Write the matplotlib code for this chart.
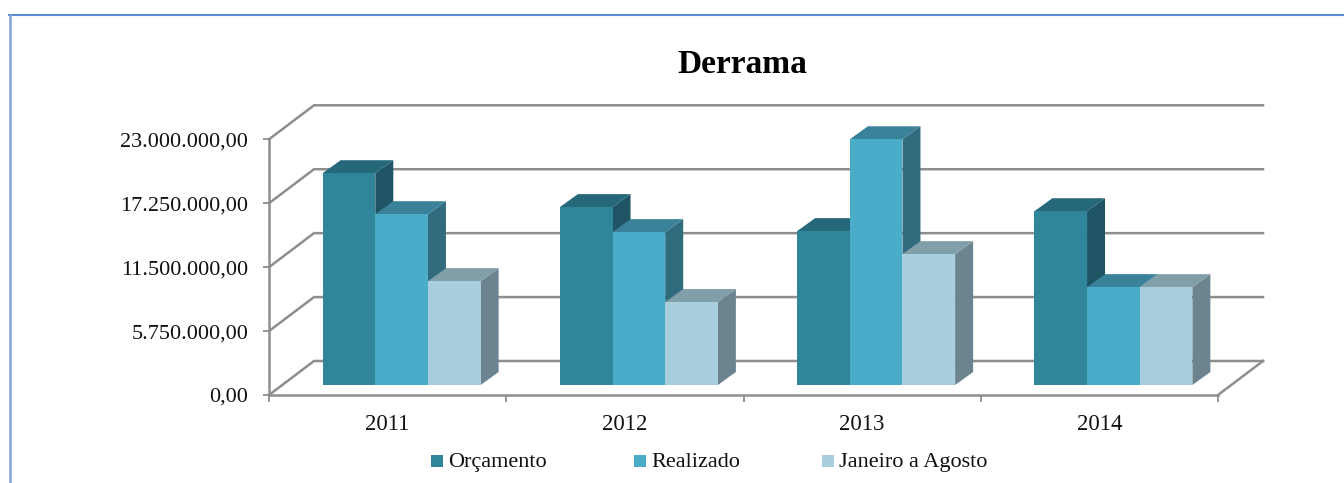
import matplotlib
matplotlib.use('Agg')
from matplotlib import pyplot as plt
from matplotlib import transforms
from matplotlib.lines import Line2D
from matplotlib.patches import Polygon, Rectangle
from matplotlib.ticker import FuncFormatter

years = ['2011', '2012', '2013', '2014']
series_names = ['Orçamento', 'Realizado', 'Janeiro a Agosto']
orcamento = [19050000, 16000000, 13840000, 15630000]
realizado = [15360000, 13750000, 22100000, 8800000]
janeiro_agosto = [9340000, 7460000, 11770000, 8800000]
y_ticks = [0, 5750000, 11500000, 17250000, 23000000]

series = [orcamento, realizado, janeiro_agosto]
front_colors = ['#30859B', '#4AACC8', '#A9CEDE']
top_colors = ['#25687A', '#3A8299', '#809FA9']
side_colors = ['#1F5464', '#316C7E', '#6C8490']
grid_color = '#8E8E8E'
text_color = '#111111'

W, H = 1344, 483
plt.rcParams['font.family'] = ['Liberation Serif', 'DejaVu Serif']

fig = plt.figure(figsize=(W / 100, H / 100), dpi=100)
ax = fig.add_axes([269 / W, (H - 395) / H, 949 / W, 255.7 / H])
ax.set_xlim(0, 4)
ax.set_ylim(0, 23000000)
ax.patch.set_alpha(0)

# pixels to data units
px = 4 / 949
py = 23000000 / 255.7
wall_dx, wall_dy = 45 * px, 34 * py
bar_dx, bar_dy = 18 * px, 13 * py

# document box, only top and left are in the crop
fig.add_artist(Line2D([9 / W, 1], [(H - 15) / H, (H - 15) / H], color='#5B8FD0', lw=1.5))
fig.add_artist(Line2D([9.5 / W, 9.5 / W], [0, (H - 15) / H], color='#7FA3DA', lw=1.8))

# walls
for v in y_ticks:
    ax.plot([0, wall_dx, 4 + wall_dx], [v, v + wall_dy, v + wall_dy],
            color=grid_color, lw=1.8, clip_on=False, zorder=1, solid_joinstyle='miter')
ax.plot([4, 4 + wall_dx], [0, wall_dy], color=grid_color, lw=1.8, clip_on=False, zorder=1)

# bars sit a bit inside the floor
bar_tf = transforms.offset_copy(ax.transData, fig, x=14, y=10, units='dots')
bar_w = 0.222
for i in range(len(years)):
    for k, vals in enumerate(series):
        x0 = i + 0.5 + (k - 1.5) * bar_w
        x1 = x0 + bar_w
        v = vals[i]
        ax.add_patch(Polygon([(x1, 0), (x1 + bar_dx, bar_dy), (x1 + bar_dx, v + bar_dy), (x1, v)],
                             facecolor=side_colors[k], edgecolor='none',
                             transform=bar_tf, clip_on=False, zorder=3))
        ax.add_patch(Polygon([(x0, v), (x0 + bar_dx, v + bar_dy), (x1 + bar_dx, v + bar_dy), (x1, v)],
                             facecolor=top_colors[k], edgecolor='none',
                             transform=bar_tf, clip_on=False, zorder=3))
        ax.bar(x0, v, bar_w, align='edge', color=front_colors[k], edgecolor='none',
               transform=bar_tf, clip_on=False, zorder=3)

ax.set_xlim(0, 4)
ax.set_ylim(0, 23000000)

for s in ['top', 'right']:
    ax.spines[s].set_visible(False)
for s in ['left', 'bottom']:
    ax.spines[s].set_color(grid_color)
    ax.spines[s].set_linewidth(1.8)
    ax.spines[s].set_zorder(2)


def br_fmt(v, pos):
    return f'{v:,.2f}'.replace(',', ' ').replace('.', ',').replace(' ', '.')


ax.set_yticks(y_ticks)
ax.yaxis.set_major_formatter(FuncFormatter(br_fmt))
ax.tick_params(axis='y', length=4, width=1.3, color=grid_color, pad=11,
               labelsize=16, labelcolor=text_color)
ax.set_xticks([0, 1, 2, 3, 4])
ax.set_xticklabels([])
ax.set_xticks([0.5, 1.5, 2.5, 3.5], labels=years, minor=True)
ax.tick_params(axis='x', which='major', length=5, width=1.3, color=grid_color)
ax.tick_params(axis='x', which='minor', length=0, pad=14, labelsize=16.5, labelcolor=text_color)

fig.text(742 / W, (H - 73) / H, 'Derrama', fontsize=24, fontweight='bold',
         ha='center', va='baseline', color='#000000')

# legend placed by hand so that the three labels share one baseline
legend_x = [431, 634, 822]
for x, name, c in zip(legend_x, series_names, front_colors):
    fig.add_artist(Rectangle((x / W, (H - 467) / H), 12 / W, 12 / H, transform=fig.transFigure,
                             facecolor=c, edgecolor='none'))
    fig.text((x + 17) / W, (H - 467) / H, name, fontsize=16, va='baseline', color=text_color)

fig.savefig('out.png', dpi=100)
